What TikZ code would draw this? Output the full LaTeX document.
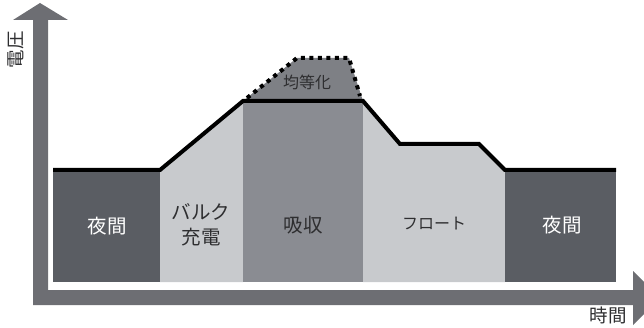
\documentclass[tikz,border=0pt]{standalone}
\usepackage{fontspec}
\setmainfont{Noto Sans CJK JP}
\definecolor{axisgray}{HTML}{6D6E73}
\definecolor{darkbar}{HTML}{5A5D63}
\definecolor{lightbar}{HTML}{C8CACD}
\definecolor{midbar}{HTML}{8A8C92}
\definecolor{eqbar}{HTML}{7E8085}
\definecolor{txtdark}{HTML}{2E2E30}
\tikzset{
  axis/.style={fill=axisgray,draw=none},
  profile/.style={draw=black,line width=4pt,line join=miter,line cap=butt},
  lbl/.style={font=\fontsize{19.5}{25}\selectfont,align=center,inner sep=0pt},
  lblsmall/.style={font=\fontsize{16}{18}\selectfont,align=center,inner sep=0pt},
}
\begin{document}
\begin{tikzpicture}[x=1pt,y=-1pt]
\useasboundingbox (0,0) rectangle (644,328);
% axes
\fill[axis] (33,305) -- (33,20) -- (13,20) -- (40,3) -- (68,20) -- (48,20) -- (48,290)
  -- (633,290) -- (633,271) -- (660,298) -- (633,325) -- (633,305) -- cycle;
% bars
\fill[darkbar] (53,170) rectangle (160,282);
\fill[lightbar] (160,170) -- (243,101) -- (243,282) -- (160,282) -- cycle;
\fill[midbar] (243,101) rectangle (363,282);
\fill[lightbar] (363,101) -- (400,144) -- (479,144) -- (505,170) -- (505,282) -- (363,282) -- cycle;
\fill[darkbar] (505,170) rectangle (616,282);
% equalization
\fill[eqbar] (243,101) -- (297,58) -- (349,58) -- (363,101) -- cycle;
\draw[line width=4pt,dash pattern=on 4pt off 4.5pt] (247,98) -- (297,58) -- (349,58) -- (360,96);
% profile line
\draw[profile] (53,170) -- (160,170) -- (243,101) -- (363,101) -- (400,144) -- (479,144) -- (505,170) -- (616,170);
% labels
\node[lbl,text=white] (n1) at (107,226) {夜間};
\node[lbl,text=txtdark] (bulk) at (201,225) {バルク\\充電};
\node[lbl,text=txtdark] (abs) at (303,225) {吸収};
\node[lblsmall,text=txtdark] (flt) at (434,224) {フロート};
\node[lbl,text=white] (n2) at (562,225) {夜間};
\node[lblsmall,text=txtdark] (eq) at (307,82) {均等化};
\node[lbl,text=txtdark,font=\fontsize{18.5}{20}\selectfont,rotate=90] (vlab) at (16,50) {電圧};
\node[lbl,text=txtdark,font=\fontsize{18.5}{20}\selectfont] (tlab) at (608,315) {時間};
\end{tikzpicture}
\end{document}
